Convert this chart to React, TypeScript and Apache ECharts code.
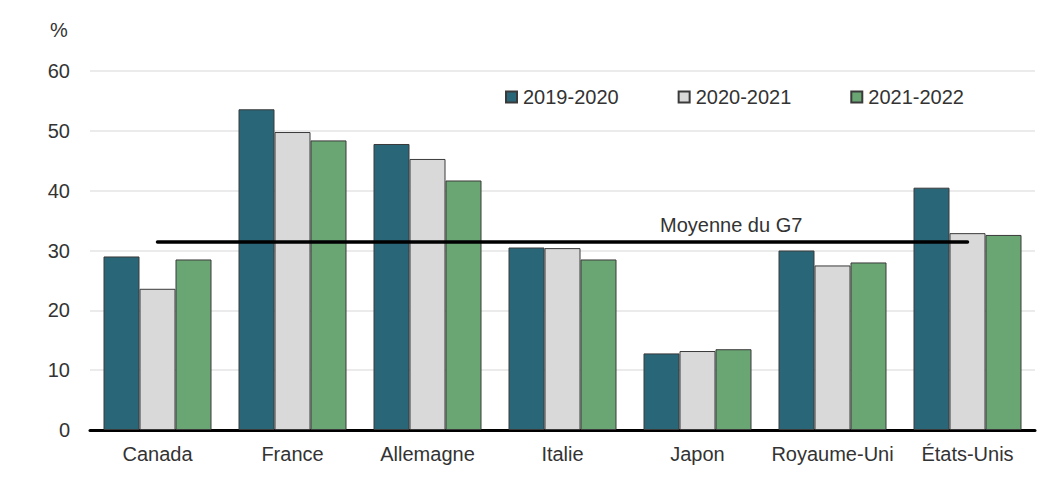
import React, { useEffect, useRef } from "react";
import * as echarts from "echarts";

const categories = ["Canada", "France", "Allemagne", "Italie", "Japon", "Royaume-Uni", "États-Unis"];
const seriesNames = ["2019-2020", "2020-2021", "2021-2022"];
const values2019 = [29.0, 53.6, 47.8, 30.5, 12.8, 30.0, 40.5];
const values2020 = [23.6, 49.8, 45.3, 30.4, 13.2, 27.5, 32.9];
const values2021 = [28.5, 48.4, 41.7, 28.5, 13.5, 28.0, 32.6];
const g7Average = 31.5;
const g7Label = "Moyenne du G7";
const yUnit = "%";

const colors = ["#296678", "#d9d9d9", "#6aa574"];
const FONT = "'Liberation Sans', Arial, sans-serif";
const TEXT = "#333333";

export default function App() {
  const ref = useRef<HTMLDivElement>(null);
  useEffect(() => {
    if (!ref.current) return;
    const chart = echarts.init(ref.current, null, { renderer: "svg" });
    const data = [values2019, values2020, values2021];
    chart.setOption({
      animation: false,
      backgroundColor: "#ffffff",
      textStyle: { fontFamily: FONT, color: TEXT },
      grid: { left: 90, right: 23, top: 71, bottom: 74, containLabel: false },
      legend: {
        left: 505,
        top: 87,
        padding: 0,
        itemWidth: 11,
        itemHeight: 11,
        itemGap: 59,
        icon: "rect",
        textStyle: { fontSize: 20, color: TEXT, fontFamily: FONT, padding: [0, 0, 0, 1] },
        data: seriesNames,
      },
      xAxis: {
        type: "category",
        data: categories,
        axisLine: { lineStyle: { color: "#000000", width: 3 } },
        axisTick: { show: false },
        axisLabel: { fontSize: 20, color: TEXT, fontFamily: FONT, margin: 14, interval: 0 },
      },
      yAxis: {
        type: "value",
        min: 0,
        max: 60,
        interval: 10,
        axisLine: { show: false },
        axisTick: { show: false },
        axisLabel: { fontSize: 20, color: TEXT, fontFamily: FONT, margin: 20 },
        splitLine: { lineStyle: { color: "#e4e4e4", width: 1.5 } },
      },
      graphic: [
        {
          type: "text",
          left: 50,
          top: 20,
          style: { text: yUnit, fontSize: 20, fill: TEXT, fontFamily: FONT },
        },
        {
          type: "text",
          left: 660,
          top: 215,
          style: { text: g7Label, fontSize: 20, fill: TEXT, fontFamily: FONT },
        },
      ],
      series: seriesNames.map((name, i) => ({
        name,
        type: "bar",
        data: data[i],
        barGap: "0%",
        barCategoryGap: "20%",
        itemStyle: { color: colors[i], borderColor: "#3a3a3a", borderWidth: 1 },
        markLine:
          i === 1
            ? {
                silent: true,
                symbol: "none",
                z: 10,
                label: { show: false },
                lineStyle: { color: "#000000", width: 3.5, type: "solid", cap: "round" },
                data: [
                  [
                    { coord: [categories[0], g7Average] },
                    { coord: [categories[categories.length - 1], g7Average] },
                  ],
                ],
              }
            : undefined,
      })),
    });
    return () => chart.dispose();
  }, []);
  return (
    <div
      ref={ref}
      style={{ position: "fixed", left: 0, top: 0, width: 1058, height: 504 }}
    />
  );
}
